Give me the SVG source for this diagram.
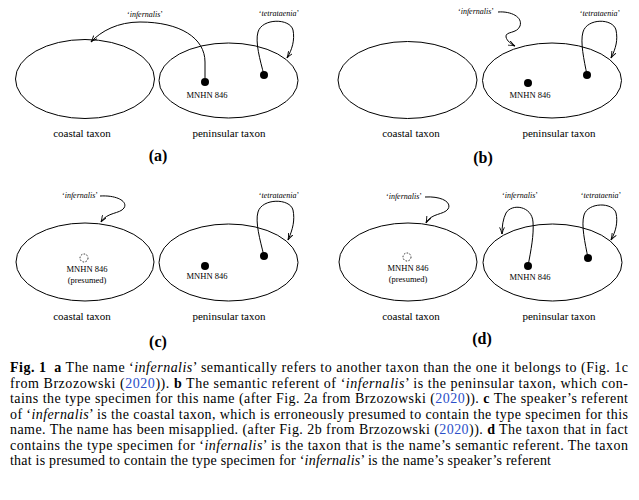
<svg xmlns="http://www.w3.org/2000/svg" width="639" height="500" viewBox="0 0 639 500" font-family="'Liberation Serif', 'Times New Roman', serif">
<style>
.el{fill:none;stroke:#000;stroke-width:1}
.dot{fill:#000}
.dash{fill:none;stroke:#000;stroke-width:0.8;stroke-dasharray:1.6 1.4}
.cn{fill:none;stroke:#000;stroke-width:1;marker-end:url(#ah)}
text{font-family:'Liberation Serif','Times New Roman',serif;fill:#000}
.tx{font-size:11px;text-anchor:middle}
.nm{font-size:8px;text-anchor:middle}
.sp{font-size:8.5px;text-anchor:middle}
.pl{font-size:16px;font-weight:bold;text-anchor:middle}
.cap{font-size:14px}
.i{font-style:italic}
.b{font-weight:bold}
.blue{fill:#2b4fc8}
</style>
<defs>
<marker id="ah" viewBox="0 0 10 8" refX="9.5" refY="4" markerWidth="7" markerHeight="5.6" orient="auto" markerUnits="userSpaceOnUse">
<path d="M0,0.6 Q5,3 9.5,4 Q5,5 0,7.4" fill="none" stroke="#000" stroke-width="1.3"/>
</marker>
</defs>

<!-- Panel (a) -->
<g id="a-coastal"><ellipse class="el" cx="85" cy="79" rx="69.5" ry="39.5"/><text class="tx" x="82" y="137">coastal taxon</text></g>
<g id="a-peninsular"><ellipse class="el" cx="228.5" cy="80.5" rx="69.5" ry="37.5"/><text class="tx" x="229" y="137">peninsular taxon</text></g>
<g id="a-mnhn"><circle class="dot" cx="205" cy="82" r="4"/><text class="sp" x="207" y="98">MNHN 846</text></g>
<g id="a-tetra-spec"><circle class="dot" cx="264" cy="75" r="4"/></g>
<g id="a-infernalis"><text class="nm" x="145" y="17">‘<tspan class="i">infernalis</tspan>’</text></g>
<g id="a-tetrataenia"><text class="nm" x="279" y="16">‘<tspan class="i">tetrataenia</tspan>’</text></g>
<text class="pl" x="158" y="161">(a)</text>

<!-- Panel (b) -->
<g id="b-coastal"><ellipse class="el" cx="407.5" cy="80" rx="69.5" ry="38.5"/><text class="tx" x="411" y="137">coastal taxon</text></g>
<g id="b-peninsular"><ellipse class="el" cx="552" cy="80.5" rx="69.5" ry="37.5"/><text class="tx" x="559" y="137">peninsular taxon</text></g>
<g id="b-mnhn"><circle class="dot" cx="528" cy="83" r="4"/><text class="sp" x="530" y="98">MNHN 846</text></g>
<g id="b-tetra-spec"><circle class="dot" cx="587" cy="75" r="4"/></g>
<g id="b-infernalis"><text class="nm" x="476" y="14">‘<tspan class="i">infernalis</tspan>’</text></g>
<g id="b-tetrataenia"><text class="nm" x="600" y="16">‘<tspan class="i">tetrataenia</tspan>’</text></g>
<text class="pl" x="483" y="163">(b)</text>

<!-- Panel (c) -->
<g id="c-coastal"><ellipse class="el" cx="85" cy="262" rx="69" ry="39"/><text class="tx" x="82" y="320">coastal taxon</text></g>
<g id="c-peninsular"><ellipse class="el" cx="228.5" cy="262.5" rx="69.5" ry="38.5"/><text class="tx" x="229" y="320">peninsular taxon</text></g>
<g id="c-presumed"><circle class="dash" cx="84" cy="258" r="4"/><text class="sp" x="87" y="272">MNHN 846</text><text class="sp" x="87" y="283">(presumed)</text></g>
<g id="c-mnhn"><circle class="dot" cx="205" cy="266" r="4"/><text class="sp" x="207" y="279">MNHN 846</text></g>
<g id="c-tetra-spec"><circle class="dot" cx="264" cy="256" r="4"/></g>
<g id="c-infernalis"><text class="nm" x="80" y="198">‘<tspan class="i">infernalis</tspan>’</text></g>
<g id="c-tetrataenia"><text class="nm" x="279" y="198">‘<tspan class="i">tetrataenia</tspan>’</text></g>
<text class="pl" x="158" y="347">(c)</text>

<!-- Panel (d) -->
<g id="d-coastal"><ellipse class="el" cx="408" cy="262" rx="69" ry="39"/><text class="tx" x="411" y="320">coastal taxon</text></g>
<g id="d-peninsular"><ellipse class="el" cx="552.5" cy="262.5" rx="69.5" ry="38.5"/><text class="tx" x="559" y="320">peninsular taxon</text></g>
<g id="d-presumed"><circle class="dash" cx="407" cy="257" r="4"/><text class="sp" x="408" y="271">MNHN 846</text><text class="sp" x="408" y="282">(presumed)</text></g>
<g id="d-mnhn"><circle class="dot" cx="528" cy="266" r="4"/><text class="sp" x="530" y="280">MNHN 846</text></g>
<g id="d-tetra-spec"><circle class="dot" cx="588" cy="258" r="4"/></g>
<g id="d-infernalis-left"><text class="nm" x="404" y="199">‘<tspan class="i">infernalis</tspan>’</text></g>
<g id="d-infernalis-right"><text class="nm" x="520" y="198">‘<tspan class="i">infernalis</tspan>’</text></g>
<g id="d-tetrataenia"><text class="nm" x="601" y="198">‘<tspan class="i">tetrataenia</tspan>’</text></g>
<text class="pl" x="482" y="344">(d)</text>

<g id="connectors">
<path class="cn" d="M205,78 L205,62 C205,38 180,22 140,22 C118,22 101,31 91,42"/>
<path class="cn" d="M264,75 C260,60 255,42 258,32 C262,18 290,18 293,30 C295,40 292,50 287,58"/>
<path class="cn" d="M498,12 C511,11 523,17 520,26 C517,34 505,31 506,37 C507,41 511,44 515,46"/>
<path class="cn" d="M587,75 C584,60 580,42 583,32 C587,18 613,18 616,30 C618,40 616,48 611,58"/>
<path class="cn" d="M100,196 C118,195 128,202 124,208 C120,214 107,212 101,222"/>
<path class="cn" d="M264,256 C260,240 255,222 258,212 C262,198 290,198 293,210 C295,220 293,229 288,240"/>
<path class="cn" d="M425,197 C443,196 452,203 448,209 C444,215 431,213 426,223"/>
<path class="cn" d="M528,266 C531,250 534,235 533,222 C532,206 512,203 506,213 C503,219 502,226 502,234"/>
<path class="cn" d="M588,258 C585,243 581,225 584,215 C588,202 613,202 616,213 C618,222 616,231 611,240"/>
</g>

<g id="caption">
<text class="cap" x="10" y="372" textLength="618" lengthAdjust="spacing"><tspan class="b">Fig. 1</tspan>&#160;&#160;<tspan class="b">a</tspan> The name ‘<tspan class="i">infernalis</tspan>’ semantically refers to another taxon than the one it belongs to (Fig. 1c</text>
<text class="cap" x="10" y="387.5" textLength="618" lengthAdjust="spacing">from Brzozowski (<tspan class="blue">2020</tspan>)). <tspan class="b">b</tspan> The semantic referent of ‘<tspan class="i">infernalis</tspan>’ is the peninsular taxon, which con-</text>
<text class="cap" x="10" y="403" textLength="618" lengthAdjust="spacing">tains the type specimen for this name (after Fig. 2a from Brzozowski (<tspan class="blue">2020</tspan>)). <tspan class="b">c</tspan> The speaker’s referent</text>
<text class="cap" x="10" y="418.5" textLength="618" lengthAdjust="spacing">of ‘<tspan class="i">infernalis</tspan>’ is the coastal taxon, which is erroneously presumed to contain the type specimen for this</text>
<text class="cap" x="10" y="434" textLength="618" lengthAdjust="spacing">name. The name has been misapplied. (after Fig. 2b from Brzozowski (<tspan class="blue">2020</tspan>)). <tspan class="b">d</tspan> The taxon that in fact</text>
<text class="cap" x="10" y="449.5" textLength="618" lengthAdjust="spacing">contains the type specimen for ‘<tspan class="i">infernalis</tspan>’ is the taxon that is the name’s semantic referent. The taxon</text>
<text class="cap" x="10" y="465" textLength="541" lengthAdjust="spacing">that is presumed to contain the type specimen for ‘<tspan class="i">infernalis</tspan>’ is the name’s speaker’s referent</text>
</g>
</svg>
